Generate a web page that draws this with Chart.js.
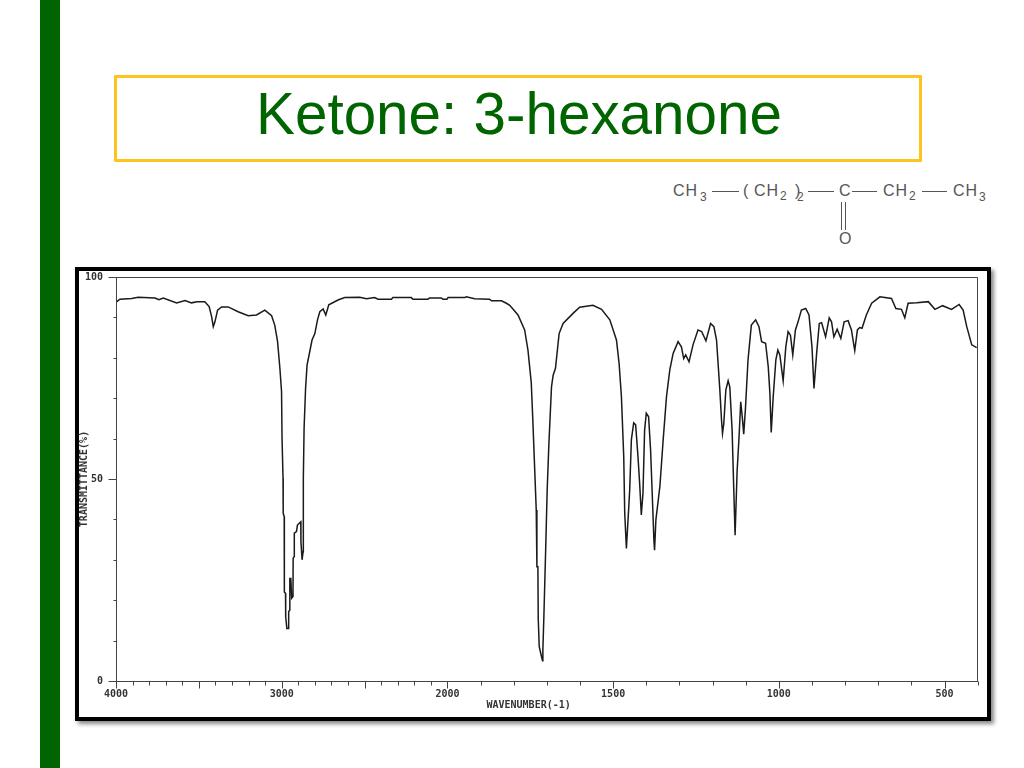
<!DOCTYPE html>
<html>
<head>
<meta charset="utf-8">
<title>Ketone: 3-hexanone</title>
<script src="https://cdn.jsdelivr.net/npm/chart.js@4/dist/chart.umd.min.js"></script>
<style>
    html, body { margin: 0; padding: 0; background: #fff; width: 1024px; height: 768px; overflow: hidden; }
    .side-bar { position: absolute; left: 40px; top: 0; width: 19.5px; height: 768px; background: #006400; }
    .title-box { position: absolute; left: 113.5px; top: 75px; width: 802.5px; height: 81px; border: 3px solid #fcc41c; border-radius: 1px; }
    .title-text { position: absolute; left: 256px; top: 81px; font: 58.4px/66px "Liberation Sans", Arial, sans-serif; color: #006400; white-space: nowrap; }
    .frame { position: absolute; left: 75px; top: 266.5px; width: 908px; height: 446.5px; border: 4.5px solid #000; background: #fff; box-shadow: 3px 3px 4px #8a8a8a; }
    #spectrumChart { position: absolute; left: 79px; top: 271px; }
    .chem { position: absolute; font: 16px/16px "Liberation Sans", Arial, sans-serif; color: #555; letter-spacing: 1px; white-space: nowrap; }
    .chem.sub { font-size: 12px; line-height: 12px; letter-spacing: 0; }
    .bond { position: absolute; height: 1px; background: #555; }
    .bond.up { width: 1px; height: 28px; }
</style>
</head>
<body>
<div class="side-bar"></div>
<div class="title-box"></div>
<div class="title-text">Ketone: 3-hexanone</div>

<span class="chem" style="left:673px;top:183px">CH</span><span class="chem sub" style="left:700px;top:191px">3</span>
<div class="bond" style="left:712px;top:191px;width:27px"></div>
<span class="chem" style="left:743px;top:183px">(</span>
<span class="chem" style="left:754px;top:183px">CH</span><span class="chem sub" style="left:780px;top:190px">2</span>
<span class="chem" style="left:795px;top:183px">)</span><span class="chem sub" style="left:797px;top:191px">2</span>
<div class="bond" style="left:808px;top:191px;width:26px"></div>
<span class="chem" style="left:839px;top:183px">C</span>
<div class="bond" style="left:852px;top:191px;width:25px"></div>
<span class="chem" style="left:883px;top:183px">CH</span><span class="chem sub" style="left:909px;top:190px">2</span>
<div class="bond" style="left:922px;top:191px;width:25px"></div>
<span class="chem" style="left:953px;top:183px">CH</span><span class="chem sub" style="left:979px;top:191px">3</span>
<div class="bond up" style="left:841px;top:202px"></div>
<div class="bond up" style="left:845px;top:202px"></div>
<span class="chem" style="left:839px;top:231px">O</span>

<div class="frame"></div>
<canvas id="spectrumChart" width="908" height="447"></canvas>

<script>
// Spectrum, in order of falling wavenumber
const wavenumbers = [
    3996, 3976, 3905, 3866, 3765, 3741, 3715, 3634, 3584, 3544, 3512, 3464, 3438, 3423, 3413, 3403, 3387, 3363, 3323, 3263,
    3202, 3152, 3102, 3061, 3042, 3025, 3011, 3001, 2998, 2992, 2991, 2985, 2984, 2977, 2976, 2969, 2961, 2958, 2952, 2951,
    2945, 2940, 2932, 2931, 2925, 2924, 2911, 2905, 2885, 2884, 2877, 2871, 2870, 2869, 2865, 2856, 2847, 2831, 2817, 2800,
    2784, 2770, 2750, 2734, 2716, 2660, 2620, 2529, 2489, 2439, 2419, 2338, 2329, 2218, 2208, 2118, 2108, 2037, 2027, 2003,
    1998, 1948, 1943, 1918, 1873, 1867, 1837, 1822, 1812, 1787, 1767, 1757, 1747, 1742, 1732, 1730, 1727, 1726, 1724, 1723,
    1716, 1713, 1712, 1709, 1704, 1699, 1694, 1686, 1681, 1674, 1663, 1651, 1621, 1601, 1561, 1535, 1510, 1490, 1482, 1475,
    1468, 1465, 1460, 1455, 1450, 1445, 1438, 1432, 1425, 1420, 1415, 1410, 1405, 1400, 1393, 1387, 1381, 1377, 1375, 1371,
    1359, 1349, 1339, 1329, 1319, 1304, 1294, 1287, 1281, 1271, 1259, 1244, 1233, 1220, 1206, 1196, 1188, 1178, 1173, 1170,
    1166, 1160, 1153, 1148, 1141, 1136, 1132, 1126, 1120, 1115, 1110, 1106, 1101, 1093, 1083, 1070, 1060, 1052, 1040, 1032,
    1027, 1023, 1017, 1009, 1003, 997, 987, 979, 972, 965, 958, 950, 942, 932, 919, 909, 900, 894, 886, 878,
    871, 859, 848, 841, 834, 824, 813, 803, 791, 781, 771, 763, 756, 749, 736, 720, 695, 660, 647, 630,
    620, 610, 584, 549, 529, 506, 479, 456, 444, 433, 418, 403
];
const transmittance = [
    93.9, 94.5, 94.7, 95.0, 94.8, 94.4, 94.8, 93.6, 94.2, 93.6, 93.9, 93.9, 92.7, 90.2, 87.7, 88.9, 91.8, 92.6, 92.6, 91.4,
    90.4, 90.6, 91.8, 90.4, 88.1, 84.0, 77.4, 71.6, 60.0, 50.2, 41.5, 40.7, 22.0, 21.7, 15.9, 13.0, 13.0, 17.1, 17.6, 25.4,
    25.4, 20.5, 20.9, 30.4, 30.8, 36.6, 37.0, 38.6, 39.4, 34.5, 30.0, 32.0, 44.8, 50.2, 62.5, 72.4, 78.2, 81.5, 84.4, 86.0,
    89.4, 91.4, 92.1, 90.6, 93.1, 94.3, 94.9, 95.0, 94.6, 94.9, 94.5, 94.5, 94.9, 94.9, 94.5, 94.5, 94.8, 94.8, 94.5, 94.5,
    94.9, 94.9, 95.1, 94.6, 94.5, 94.1, 94.1, 93.5, 93.0, 90.6, 86.9, 81.9, 73.8, 63.9, 42.3, 28.3, 28.3, 15.6, 15.6, 8.5,
    6.0, 5.0, 7.7, 15.9, 31.2, 47.3, 58.4, 72.8, 75.7, 77.4, 86.0, 88.5, 91.0, 92.5, 93.0, 92.0, 89.4, 84.4, 78.6, 70.4,
    55.5, 41.5, 32.8, 39.9, 47.3, 59.7, 63.9, 63.4, 55.5, 48.9, 41.1, 46.5, 62.1, 66.3, 65.4, 57.2, 44.0, 34.9, 32.4, 39.9,
    48.1, 59.7, 70.4, 77.0, 81.1, 84.0, 82.7, 79.8, 80.7, 79.0, 83.2, 86.9, 86.5, 84.2, 88.5, 87.7, 84.4, 72.0, 64.6, 61.3,
    63.8, 72.0, 74.3, 72.8, 62.1, 47.3, 36.1, 51.8, 60.5, 69.1, 65.0, 61.1, 67.1, 79.5, 88.1, 89.4, 87.7, 84.0, 83.6, 77.8,
    71.2, 61.5, 70.4, 79.5, 81.9, 80.7, 74.3, 82.7, 86.5, 85.6, 80.7, 86.9, 88.9, 91.8, 92.2, 90.6, 82.7, 72.4, 81.1, 88.5,
    88.7, 85.2, 89.9, 88.9, 85.2, 87.1, 84.8, 88.9, 89.2, 86.9, 81.8, 86.9, 87.5, 87.3, 90.6, 93.5, 95.1, 94.7, 92.2, 92.0,
    89.9, 93.5, 93.6, 93.9, 92.0, 92.9, 92.0, 93.2, 91.8, 87.7, 83.2, 82.5
];

// Axis labels and tick marks
const xLabelTicks = [4000, 3000, 2000, 1500, 1000, 500];
const xMajorTicks = [4000, 3500, 3000, 2500, 2000, 1500, 1000, 500];
const xMinorTicks = [
    3900, 3800, 3700, 3600, 3400, 3300, 3200, 3100, 2900, 2800, 2700, 2600, 2400, 2300, 2200, 2100,
    1900, 1800, 1700, 1600, 1400, 1300, 1200, 1100, 900, 800, 700, 600, 400
];
const yLabelTicks = [0, 50, 100];
const yMinorTicks = [10, 20, 30, 40, 60, 70, 80, 90];
const xAxisTitle = 'WAVENUMBER(-1)';
const xAxisTitleAt = 1755;
const yAxisTitle = 'TRANSMITTANCE(%)';

// The chart paper doubles its scale below 2000 cm-1
class WavenumberScale extends Chart.LinearScale {
    getPixelForValue(value) {
        const position = value >= 2000 ? 4000 - value : 2000 + (2000 - value) * 2;
        return this.getPixelForDecimal(position / 5200);
    }
}
WavenumberScale.id = 'wavenumber';
WavenumberScale.defaults = Chart.LinearScale.defaults;
Chart.register(WavenumberScale);

// Tick marks of two lengths and the top/right box lines, which Chart.js has no option for
const spectrumFrame = {
    id: 'spectrumFrame',
    afterDatasetsDraw(chart) {
        const { ctx, chartArea, scales } = chart;
        const bottom = Math.round(chartArea.bottom) + 0.5;
        const left = Math.round(chartArea.left) + 0.5;
        const top = Math.round(chartArea.top) + 0.5;
        const right = Math.floor(chartArea.right) + 0.5;

        ctx.save();
        ctx.strokeStyle = '#444';
        ctx.lineWidth = 1;
        ctx.beginPath();
        ctx.moveTo(left, top);
        ctx.lineTo(right, top);
        ctx.lineTo(right, bottom);

        xMajorTicks.forEach(v => {
            const x = Math.round(scales.x.getPixelForValue(v)) + 0.5;
            ctx.moveTo(x, bottom);
            ctx.lineTo(x, bottom + 7);
        });
        xMinorTicks.forEach(v => {
            const x = Math.round(scales.x.getPixelForValue(v)) + 0.5;
            ctx.moveTo(x, bottom);
            ctx.lineTo(x, bottom + 4);
        });
        yLabelTicks.forEach(v => {
            const y = Math.round(scales.y.getPixelForValue(v)) + 0.5;
            ctx.moveTo(left, y);
            ctx.lineTo(left - 8, y);
        });
        yMinorTicks.forEach(v => {
            const y = Math.round(scales.y.getPixelForValue(v)) + 0.5;
            ctx.moveTo(left, y);
            ctx.lineTo(left - 3, y);
        });
        ctx.stroke();

        // Sits left of centre in the original, so not the scale's own title
        ctx.fillStyle = '#333';
        ctx.font = 'bold 10px "DejaVu Sans Mono", monospace';
        ctx.textAlign = 'center';
        ctx.textBaseline = 'middle';
        ctx.fillText(xAxisTitle, scales.x.getPixelForValue(xAxisTitleAt), bottom + 24);
        ctx.restore();
    }
};

function initializeSpectrumChart() {
    const ctx = document.getElementById('spectrumChart').getContext('2d');

    new Chart(ctx, {
        type: 'line',
        plugins: [spectrumFrame],
        data: {
            datasets: [{
                label: 'Transmittance',
                data: wavenumbers.map((wn, i) => ({ x: wn, y: transmittance[i] })),
                borderColor: '#1a1a1a',
                borderWidth: 1.5,
                pointRadius: 0,
                tension: 0
            }]
        },
        options: {
            responsive: false,
            animation: false,
            layout: {
                autoPadding: false,
                padding: { top: 6, right: 9.3, bottom: 0, left: 0 }
            },
            plugins: {
                legend: { display: false },
                tooltip: { enabled: false }
            },
            scales: {
                x: {
                    type: 'wavenumber',
                    min: 400,
                    max: 4000,
                    afterFit: axis => {
                        axis.height = 37;
                        axis.paddingLeft = 0;
                        axis.paddingRight = 0;
                    },
                    afterBuildTicks: axis => { axis.ticks = xLabelTicks.map(v => ({ value: v })); },
                    border: { color: '#444', width: 1 },
                    grid: { display: false, drawTicks: false },
                    ticks: {
                        color: '#333',
                        font: { family: '"DejaVu Sans Mono", monospace', size: 10, weight: 'bold' },
                        padding: 7,
                        autoSkip: false,
                        maxRotation: 0,
                        callback: value => String(value)
                    }
                },
                y: {
                    min: 0,
                    max: 100,
                    afterFit: axis => {
                        axis.width = 37;
                        axis.paddingTop = 0;
                        axis.paddingBottom = 0;
                    },
                    afterBuildTicks: axis => { axis.ticks = yLabelTicks.map(v => ({ value: v })); },
                    border: { color: '#444', width: 1 },
                    grid: { display: false, drawTicks: false },
                    title: {
                        display: true,
                        text: yAxisTitle,
                        color: '#333',
                        font: { family: '"DejaVu Sans Mono", monospace', size: 10, weight: 'bold', lineHeight: 1 },
                        padding: 0
                    },
                    ticks: {
                        color: '#333',
                        font: { family: '"DejaVu Sans Mono", monospace', size: 10, weight: 'bold' },
                        padding: 13,
                        callback: value => String(value)
                    }
                }
            }
        }
    });
}

initializeSpectrumChart();
</script>
</body>
</html>
